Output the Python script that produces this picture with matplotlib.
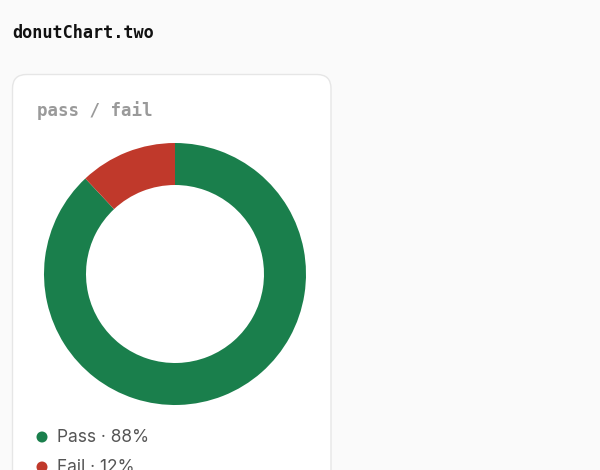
import matplotlib
matplotlib.use("Agg")
import matplotlib.pyplot as plt
from matplotlib.patches import FancyBboxPatch, Circle

labels = ["Pass", "Fail"]
values = [88, 12]
colors = ["#1a7f4c", "#c0392b"]

W, H = 600, 470
fig = plt.figure(figsize=(W / 100, H / 100), dpi=100)
fig.patch.set_facecolor("#fafafa")

bg = fig.add_axes([0, 0, 1, 1])
bg.set_xlim(0, W)
bg.set_ylim(H, 0)
bg.axis("off")

# card
card = FancyBboxPatch((12.5, 74.5), 318.5, 430, boxstyle="round,pad=0,rounding_size=14",
                      facecolor="white", edgecolor="#e6e6e6", linewidth=1.0)
bg.add_patch(card)

bg.text(12, 33, "donutChart.two", family="DejaVu Sans Mono", fontweight="bold",
        fontsize=12.2, color="#111111", va="center", ha="left")
bg.text(37, 111, "pass / fail", family="DejaVu Sans Mono", fontweight="bold",
        fontsize=12.6, color="#9a9a9a", va="center", ha="left")

# legend
leg_y = [437, 467]
for lab, val, col, y in zip(labels, values, colors, leg_y):
    bg.add_patch(Circle((42, y), 5.5, facecolor=col, edgecolor="none"))
    bg.text(57, y, f"{lab} · {val}%", family="Inter", fontsize=12.5,
            color="#555555", va="center", ha="left")

# donut
cx, cy, r = 175, 274, 131
pax = fig.add_axes([(cx - r) / W, (H - cy - r) / H, 2 * r / W, 2 * r / H])
pax.pie(values, colors=colors, startangle=90, counterclock=False, radius=1,
        wedgeprops=dict(width=42 / 131, edgecolor="none", linewidth=0))
pax.set_xlim(-1, 1)
pax.set_ylim(-1, 1)
pax.set_aspect("equal")
pax.axis("off")

fig.savefig("out.png", dpi=100, facecolor=fig.get_facecolor())
